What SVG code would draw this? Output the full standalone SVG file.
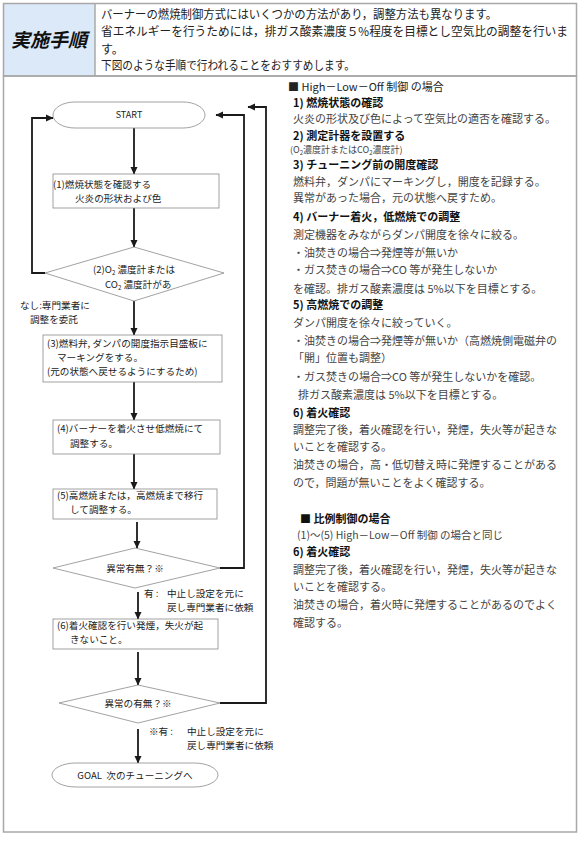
<svg xmlns="http://www.w3.org/2000/svg" width="580" height="841" viewBox="0 0 580 841">
<defs>
<marker id="ah" markerWidth="8" markerHeight="8" refX="7" refY="4" orient="auto" markerUnits="userSpaceOnUse">
<path d="M0,0.5 L7.5,4 L0,7.5 Z" fill="#1a1a1a"/>
</marker>
</defs>
<style>
.frame{fill:none;stroke:#a8a8a8;stroke-width:1.5}
.shape{fill:#fff;stroke:#8a8a8a;stroke-width:0.8}
.con{fill:none;stroke:#1a1a1a;stroke-width:1.8;marker-end:url(#ah)}
.ft{font-family:"Noto Sans CJK JP",sans-serif;font-size:9.6px;fill:#222}
.st{font-family:"Noto Sans CJK JP",sans-serif;font-size:9px;fill:#222}
.hd{font-family:"Noto Sans CJK JP",sans-serif;font-size:12px;fill:#222}
.rb{font-family:"Noto Sans CJK JP",sans-serif;font-size:11px;fill:#444}
.rs{font-family:"Noto Sans CJK JP",sans-serif;font-size:9px;fill:#444}
.rm{font-family:"Noto Sans CJK JP",sans-serif;font-size:10.5px;fill:#444}
.rh{font-family:"Noto Sans CJK JP",sans-serif;font-size:11px;fill:#111;font-weight:bold}
.rt{font-family:"Noto Sans CJK JP",sans-serif;font-size:11px;fill:#222}
.sub{font-size:6px}
</style>
<rect x="0" y="0" width="580" height="841" fill="#fff"/>
<g id="header">
<rect x="4" y="4" width="91" height="72" fill="#dce9f8"/>
<rect x="3.5" y="3.5" width="573" height="72.5" class="frame"/>
<line x1="95" y1="4" x2="95" y2="76" class="frame"/>
<text x="49" y="47" text-anchor="middle" font-family="Noto Sans CJK JP, sans-serif" font-size="19" font-weight="bold" font-style="italic" fill="#111">実施手順</text>
<text x="101" y="19" class="hd" textLength="396" lengthAdjust="spacingAndGlyphs">バーナーの燃焼制御方式にはいくつかの方法があり，調整方法も異なります。</text>
<text x="101" y="36" class="hd" textLength="467" lengthAdjust="spacingAndGlyphs">省エネルギーを行うためには，排ガス酸素濃度５%程度を目標とし空気比の調整を行いま</text>
<text x="101" y="54" class="hd">す。</text>
<text x="101" y="70" class="hd" textLength="254" lengthAdjust="spacingAndGlyphs">下図のような手順で行われることをおすすめします。</text>
</g>
<rect x="3.5" y="76" width="573" height="756" class="frame"/>
<g id="connectors">
<line x1="134" y1="128" x2="134" y2="174" class="con"/>
<line x1="134" y1="208" x2="134" y2="247" class="con"/>
<polyline points="45,273 32,273 32,118 53,118" class="con"/>
<line x1="134" y1="301" x2="134" y2="335" class="con"/>
<line x1="134" y1="382" x2="134" y2="420" class="con"/>
<line x1="134" y1="454" x2="134" y2="489" class="con"/>
<line x1="137" y1="522" x2="137" y2="548" class="con"/>
<polyline points="220,568 244,568 244,115 216,115" class="con"/>
<line x1="138" y1="592" x2="138" y2="619" class="con"/>
<line x1="138" y1="652" x2="138" y2="685" class="con"/>
<polyline points="220,703 266,703 266,107 248,107" class="con"/>
<line x1="138" y1="729" x2="138" y2="763" class="con"/>
</g>
<g id="start">
<rect x="53" y="102" width="152" height="26" rx="22" ry="13" class="shape"/>
<text x="129" y="118" text-anchor="middle" class="st">START</text>
</g>
<g id="step1">
<rect x="53" y="174" width="166" height="34" class="shape"/>
<text class="ft"><tspan x="53" y="188">(1)燃焼状態を確認する</tspan><tspan x="75" y="202">火炎の形状および色</tspan></text>
</g>
<g id="decision2">
<polygon points="134,247 224,273 134,301 45,273" class="shape"/>
<text x="93" y="273" class="ft">(2)O<tspan class="sub" dy="2">2</tspan><tspan dy="-2"> 濃度計または</tspan></text>
<text x="105" y="288" class="ft">CO<tspan class="sub" dy="2">2</tspan><tspan dy="-2"> 濃度計があ</tspan></text>
</g>
<g id="label-nashi">
<text class="ft"><tspan x="20" y="309">なし:専門業者に</tspan><tspan x="30" y="323">調整を委託</tspan></text>
</g>
<g id="step3">
<rect x="43" y="335" width="179" height="47" class="shape"/>
<text class="ft"><tspan x="47" y="347">(3)燃料弁, ダンパの開度指示目盛板に</tspan><tspan x="57" y="361">マーキングをする。</tspan><tspan x="47" y="375">(元の状態へ戻せるようにするため)</tspan></text>
</g>
<g id="step4">
<rect x="53" y="420" width="167" height="34" class="shape"/>
<text class="ft"><tspan x="57" y="432">(4)バーナーを着火させ低燃焼にて</tspan><tspan x="70" y="447">調整する。</tspan></text>
</g>
<g id="step5">
<rect x="53" y="489" width="164" height="30" class="shape"/>
<text class="ft"><tspan x="57" y="499">(5)高燃焼または，高燃焼まで移行</tspan><tspan x="70" y="513">して調整する。</tspan></text>
</g>
<g id="decision3">
<polygon points="135,548 220,568 135,588 53,568" class="shape"/>
<text x="135" y="572" text-anchor="middle" class="ft">異常有無？※</text>
</g>
<g id="label-ari1">
<text class="ft"><tspan x="144" y="597">有 :</tspan><tspan x="167" y="597">中止し設定を元に</tspan><tspan x="167" y="611">戻し専門業者に依頼</tspan></text>
</g>
<g id="step6">
<rect x="53" y="619" width="165" height="30" class="shape"/>
<text class="ft"><tspan x="57" y="629">(6)着火確認を行い発煙，失火が起</tspan><tspan x="70" y="643">きないこと。</tspan></text>
</g>
<g id="decision4">
<polygon points="138,685 220,703 138,723 59,703" class="shape"/>
<text x="138" y="707" text-anchor="middle" class="ft">異常の有無？※</text>
</g>
<g id="label-ari2">
<text class="ft"><tspan x="149" y="735">※有 :</tspan><tspan x="187" y="735">中止し設定を元に</tspan><tspan x="187" y="749">戻し専門業者に依頼</tspan></text>
</g>
<g id="goal">
<rect x="52" y="763" width="166" height="24" rx="24" ry="12" class="shape"/>
<text x="135" y="779" text-anchor="middle" class="ft">GOAL&#160; 次のチューニングへ</text>
</g>
<g id="notes">
<text x="288" y="91" class="rt">■ High－Low－Off 制御 の場合</text>
<text x="293" y="106.5" class="rh">1) 燃焼状態の確認</text>
<text x="293" y="123" class="rb">火炎の形状及び色によって空気比の適否を確認する。</text>
<text x="293" y="139.5" class="rh">2) 測定計器を設置する</text>
<text x="290" y="153.2" class="rs">(O<tspan class="sub" dy="2">2</tspan><tspan dy="-2">濃度計またはCO</tspan><tspan class="sub" dy="2">2</tspan><tspan dy="-2">濃度計)</tspan></text>
<text x="293" y="168.8" class="rh">3) チューニング前の開度確認</text>
<text x="293" y="186" class="rb">燃料弁，ダンパにマーキングし，開度を記録する。</text>
<text x="293" y="202" class="rb">異常があった場合，元の状態へ戻すため。</text>
<text x="293" y="221" class="rh">4) バーナー着火，低燃焼での調整</text>
<text x="293" y="239" class="rb">測定機器をみながらダンパ開度を徐々に絞る。</text>
<text x="293" y="257" class="rb">・油焚きの場合⇒発煙等が無いか</text>
<text x="293" y="274" class="rb">・ガス焚きの場合⇒CO 等が発生しないか</text>
<text x="293" y="293" class="rb">を確認。排ガス酸素濃度は 5%以下を目標とする。</text>
<text x="293" y="309" class="rh">5) 高燃焼での調整</text>
<text x="293" y="327" class="rb">ダンパ開度を徐々に絞っていく。</text>
<text x="293" y="345" class="rb">・油焚きの場合⇒発煙等が無いか（高燃焼側電磁弁の</text>
<text x="293" y="362" class="rb">「開」位置も調整）</text>
<text x="293" y="381" class="rb">・ガス焚きの場合⇒CO 等が発生しないかを確認。</text>
<text x="298" y="399" class="rb">排ガス酸素濃度は 5%以下を目標とする。</text>
<text x="293" y="417" class="rh">6) 着火確認</text>
<text x="293" y="434" class="rb">調整完了後，着火確認を行い，発煙，失火等が起きな</text>
<text x="293" y="451" class="rb">いことを確認する。</text>
<text x="293" y="469" class="rb">油焚きの場合，高・低切替え時に発煙することがある</text>
<text x="293" y="487" class="rb">ので，問題が無いことをよく確認する。</text>
<text x="300" y="523" class="rh">■ 比例制御の場合</text>
<text x="297" y="539" class="rm">(1)～(5) High－Low－Off 制御 の場合と同じ</text>
<text x="293" y="556" class="rh">6) 着火確認</text>
<text x="293" y="574" class="rb">調整完了後，着火確認を行い，発煙，失火等が起きな</text>
<text x="293" y="591" class="rb">いことを確認する。</text>
<text x="293" y="609" class="rb">油焚きの場合，着火時に発煙することがあるのでよく</text>
<text x="293" y="627" class="rb">確認する。</text>
</g>
</svg>
